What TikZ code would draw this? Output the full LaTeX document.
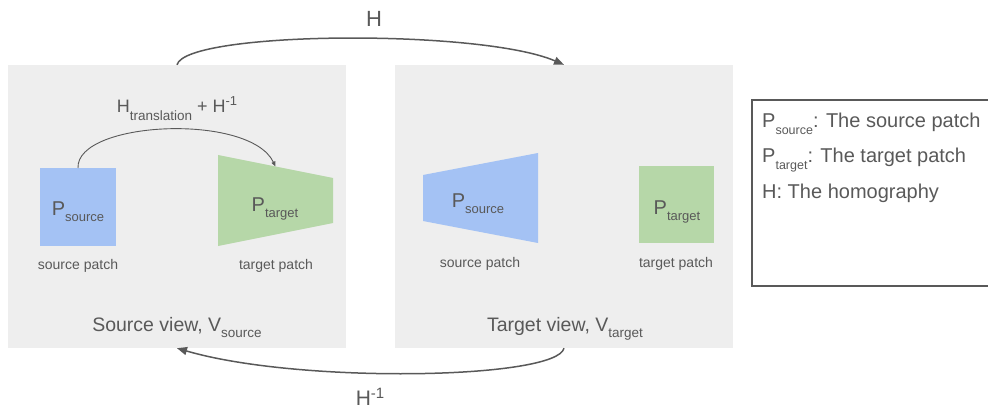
\documentclass[tikz,border=0pt]{standalone}
\usepackage{fontspec}
\setmainfont{Liberation Sans}
\usetikzlibrary{arrows.meta,calc}

\definecolor{inkgray}{HTML}{595959}
\definecolor{viewbg}{HTML}{EEEEEE}
\definecolor{patchblue}{HTML}{A4C2F4}
\definecolor{patchgreen}{HTML}{B6D7A8}

% #1 vertical shift, #2 font size (pt), #3 text
\newcommand{\shifted}[3]{\raisebox{#1}{\fontsize{#2}{#2}\selectfont #3}}

\tikzset{
  viewpanel/.style={fill=viewbg, draw=none, minimum width=338pt, minimum height=283pt, inner sep=0pt},
  txt/.style={text=inkgray, inner sep=0pt, anchor=base},
  bigarrow/.style={draw=inkgray, line width=1.5pt, -{Triangle[length=10pt,width=8pt]}},
  smallarrow/.style={draw=inkgray, line width=0.9pt, -{Triangle[length=5pt,width=4pt]}},
}

\begin{document}
\begin{tikzpicture}[x=1pt,y=-1pt]
\useasboundingbox (0,0) rectangle (988,409);

% the two views
\node[viewpanel] (srcview) at (177,206.5) {};
\node[viewpanel] (tgtview) at (564,206.5) {};

% source view: square source patch and warped target patch
\fill[patchblue] (40,168) rectangle (116,246);
\coordinate (srcsq) at (78,168);
\coordinate (g1) at (218,155);
\coordinate (g2) at (333,178);
\coordinate (g3) at (333,223);
\coordinate (g4) at (218,246);
\fill[patchgreen] (g1) -- (g2) -- (g3) -- (g4) -- cycle;
\coordinate (gtop) at ($(g1)!0.5!(g2)$);

% target view: warped source patch and square target patch
\fill[patchblue] (423,175) -- (538,153) -- (538,243) -- (423,221) -- cycle;
\fill[patchgreen] (639,166) rectangle (714,243);

% labels in the views
\node[txt] (psrcA) at (78,215) {\fontsize{20}{20}\selectfont P\shifted{-6pt}{13}{source}};
\node[txt] (ptgtA) at (275,211) {\fontsize{20}{20}\selectfont P\shifted{-6pt}{13}{target}};
\node[txt] (psrcB) at (478,207) {\fontsize{20}{20}\selectfont P\shifted{-6pt}{13}{source}};
\node[txt] (ptgtB) at (677,214) {\fontsize{20}{20}\selectfont P\shifted{-6pt}{13}{target}};

\node[txt] (capsA) at (78,269) {\fontsize{14}{14}\selectfont source patch};
\node[txt] (captA) at (276,269) {\fontsize{14}{14}\selectfont target patch};
\node[txt] (capsB) at (480,267) {\fontsize{14}{14}\selectfont source patch};
\node[txt] (captB) at (676,267) {\fontsize{14}{14}\selectfont target patch};

\node[txt] (srctitle) at (177,331) {\fontsize{19.5}{19.5}\selectfont Source view, V\shifted{-6pt}{13.5}{source}};
\node[txt] (tgttitle) at (565,331) {\fontsize{19.5}{19.5}\selectfont Target view, V\shifted{-6pt}{13.5}{target}};

% mapping inside the source view
\draw[smallarrow] (srcsq) .. controls +(-2,-47) and +(-26,-54) .. (gtop);
\node[txt] (transl) at (177,113) {\fontsize{18}{18}\selectfont H\shifted{-8pt}{13.5}{translation} + H\shifted{7pt}{13}{-1}};

% homographies between the views
\draw[bigarrow] (srcview.north) .. controls +(9,-34) and +(-83,-36) .. (tgtview.north);
\draw[bigarrow] (tgtview.south) .. controls +(-7,31) and +(123,36) .. (srcview.south);
\node[txt] (hfwd) at (374,27) {\fontsize{22}{22}\selectfont H};
\node[txt] (hinv) at (370,405) {\fontsize{21}{21}\selectfont H\shifted{7pt}{15}{-1}};

% legend
\draw[draw=inkgray, line width=1.3pt] (992,100) -- (752,100) -- (752,286) -- (992,286);
\node[txt, anchor=base west] (leg1) at (762,128) {\fontsize{20}{20}\selectfont P\shifted{-7pt}{12.5}{source}: The source patch};
\node[txt, anchor=base west] (leg2) at (762,163) {\fontsize{20}{20}\selectfont P\shifted{-7pt}{12.5}{target}: The target patch};
\node[txt, anchor=base west] (leg3) at (762,198) {\fontsize{20}{20}\selectfont H: The homography};
\end{tikzpicture}
\end{document}
